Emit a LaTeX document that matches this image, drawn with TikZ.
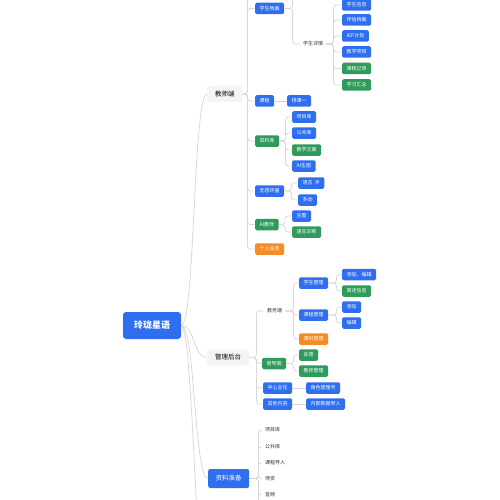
\documentclass[tikz,border=0pt]{standalone}
\usepackage{xcolor}
\usepackage{fontspec}
\setmainfont{Noto Sans CJK SC}
\usepackage{tikz}
\usetikzlibrary{positioning}

\definecolor{mmblue}{HTML}{2F6FEF}
\definecolor{mmgreen}{HTML}{2E9A5C}
\definecolor{mmorange}{HTML}{F68A25}
\definecolor{mmgray}{HTML}{F4F4F4}
\definecolor{mmline}{HTML}{D8D8D8}
\definecolor{mmtext}{HTML}{333333}

\begin{document}
\begin{tikzpicture}[
    x=1pt, y=-1pt,
    bluebox/.style = {rectangle, rounded corners=1.5pt, fill=mmblue, text=white, font=\fontsize{5}{6}\selectfont, minimum height=11.5pt, inner xsep=4.5pt, inner ysep=0pt, anchor=west},
    greenbox/.style = {bluebox, fill=mmgreen},
    orangebox/.style = {bluebox, fill=mmorange},
    plainnode/.style = {font=\fontsize{5}{6}\selectfont, text=mmtext, inner xsep=3pt, inner ysep=1pt, anchor=west},
    topicnode/.style = {rectangle, rounded corners=2pt, fill=mmgray, text=black, font=\fontsize{6.5}{8}\selectfont, minimum height=16pt, inner xsep=8pt, inner ysep=0pt, anchor=west},
    topicblue/.style = {topicnode, fill=mmblue, text=white, minimum height=19pt, inner xsep=7.5pt},
    rootnode/.style = {rectangle, rounded corners=3pt, fill=mmblue, text=white, font=\fontsize{9}{11}\selectfont\bfseries, minimum width=58pt, minimum height=27pt},
    link/.style = {draw=mmline, line width=0.8pt, rounded corners=3pt}
]
\useasboundingbox (0,0) rectangle (500,500);

\node [rootnode] (root) at (152,325.5) {玲珑星语};

% teacher side
\node [topicnode] (jsd) at (207,94) {教师端};
\node [bluebox] (xsda) at (255,8.5) {学生档案};
\node [plainnode] (xsxq) at (300,44) {学生详情};
\node [bluebox] (xsxx) at (342,5) {学生信息};
\node [bluebox] (pgda) at (342,20) {评估档案};
\node [bluebox] (iep) at (342,36) {IEP计划};
\node [bluebox] (jxxm) at (342,52) {教学项目};
\node [greenbox] (kcjl) at (342,68.5) {课程记录};
\node [greenbox] (xxhz) at (342,85) {学习汇总};

\node [bluebox] (kc) at (255,101) {课程};
\node [bluebox] (pk) at (287,101) {排课一};

\node [greenbox] (zlk) at (255,141) {资料库};
\node [bluebox] (xmk) at (292,117) {项目库};
\node [bluebox] (ggk) at (292,133) {公共库};
\node [greenbox] (jxwa) at (292,150) {教学文案};
\node [bluebox] (aist) at (292,166) {AI生图};

\node [bluebox] (wgpl) at (255,191) {无感评量};
\node [bluebox] (yy) at (298,183) {语言\ \ 步};
\node [bluebox] (dd) at (298,200) {多动};

\node [greenbox] (aijs) at (255,224.5) {AI教师};
\node [bluebox] (st) at (292,216) {生图};
\node [greenbox] (yyxl) at (292,232) {语言训练};

\node [orangebox] (grxx) at (255,249) {个人信息};

% admin side
\node [topicnode] (glht) at (207,357.5) {管理后台};
\node [plainnode] (jwd) at (264,311) {教务端};
\node [bluebox] (xsgl) at (299,283) {学生管理};
\node [bluebox] (tjbj) at (342,274.5) {添加、编辑};
\node [greenbox] (jsxx) at (342,291) {简述信息};
\node [bluebox] (kcgl) at (299,315) {课程管理};
\node [bluebox] (tj) at (342,307) {添加};
\node [bluebox] (bj) at (342,323) {编辑};
\node [orangebox] (ksgl) at (299,339) {课时管理};

\node [greenbox] (ddd) at (262,363.5) {督导端};
\node [greenbox] (fk) at (299,355) {反馈};
\node [greenbox] (jsgl) at (299,371) {教师管理};

\node [bluebox] (zxzr) at (263,388) {中心主任};
\node [bluebox] (jsglh) at (306,388) {角色管理号};
\node [bluebox] (qtnr) at (263,404) {其他内容};
\node [bluebox] (nbsj) at (306,404) {内部数据导入};

% material side
\node [topicblue] (zlzb) at (208,478.5) {资料准备};
\node [plainnode] (zxmk) at (262,430) {项目库};
\node [plainnode] (zggk) at (262,447) {公共库};
\node [plainnode] (kcdr) at (262,463) {课程导入};
\node [plainnode] (sz) at (262,478.5) {师资};
\node [plainnode] (yp) at (262,495) {音频};

% off-page ends
\coordinate (jsdtop) at (255,-30);
\coordinate (xsdatop) at (300,-30);
\coordinate (zlzbend) at (262,530);
\coordinate (rootend) at (207,620);

% root curves
\draw[link] (root.east) .. controls +(14,0) and +(-14,0) .. (jsd.west);
\draw[link] (root.east) .. controls +(14,0) and +(-14,0) .. (glht.west);
\draw[link] (root.east) .. controls +(14,0) and +(-14,0) .. (zlzb.west);
\draw[link] (root.east) .. controls +(12,0) and +(-10,0) .. (rootend);

% teacher links
\draw[link] (jsd.east) -- ++(4.5,0) |- (jsdtop);
\draw[link] (jsd.east) -- ++(4.5,0) |- (xsda.west);
\draw[link] (jsd.east) -- ++(4.5,0) |- (kc.west);
\draw[link] (jsd.east) -- ++(4.5,0) |- (zlk.west);
\draw[link] (jsd.east) -- ++(4.5,0) |- (wgpl.west);
\draw[link] (jsd.east) -- ++(4.5,0) |- (aijs.west);
\draw[link] (jsd.east) -- ++(4.5,0) |- (grxx.west);

\draw[link] (xsda.east) -- ++(8,0) |- (xsdatop);
\draw[link] (xsda.east) -- ++(8,0) |- (xsxq.west);

\draw[link] (xsxq.east) -- ++(7,0) |- (xsxx.west);
\draw[link] (xsxq.east) -- ++(7,0) |- (pgda.west);
\draw[link] (xsxq.east) -- ++(7,0) |- (iep.west);
\draw[link] (xsxq.east) -- ++(7,0) |- (jxxm.west);
\draw[link] (xsxq.east) -- ++(7,0) |- (kcjl.west);
\draw[link] (xsxq.east) -- ++(7,0) |- (xxhz.west);

\draw[link] (kc.east) -- (pk.west);

\draw[link] (zlk.east) -- ++(6,0) |- (xmk.west);
\draw[link] (zlk.east) -- ++(6,0) |- (ggk.west);
\draw[link] (zlk.east) -- ++(6,0) |- (jxwa.west);
\draw[link] (zlk.east) -- ++(6,0) |- (aist.west);

\draw[link] (wgpl.east) -- ++(7,0) |- (yy.west);
\draw[link] (wgpl.east) -- ++(7,0) |- (dd.west);

\draw[link] (aijs.east) -- ++(6,0) |- (st.west);
\draw[link] (aijs.east) -- ++(6,0) |- (yyxl.west);

% admin links
\draw[link] (glht.east) -- ++(7,0) |- (jwd.west);
\draw[link] (glht.east) -- ++(7,0) |- (ddd.west);
\draw[link] (glht.east) -- ++(7,0) |- (zxzr.west);
\draw[link] (glht.east) -- ++(7,0) |- (qtnr.west);

\draw[link] (jwd.east) -- ++(8,0) |- (xsgl.west);
\draw[link] (jwd.east) -- ++(8,0) |- (kcgl.west);
\draw[link] (jwd.east) -- ++(8,0) |- (ksgl.west);

\draw[link] (xsgl.east) -- ++(8,0) |- (tjbj.west);
\draw[link] (xsgl.east) -- ++(8,0) |- (jsxx.west);
\draw[link] (kcgl.east) -- ++(8,0) |- (tj.west);
\draw[link] (kcgl.east) -- ++(8,0) |- (bj.west);

\draw[link] (ddd.east) -- ++(7,0) |- (fk.west);
\draw[link] (ddd.east) -- ++(7,0) |- (jsgl.west);

\draw[link] (zxzr.east) -- (jsglh.west);
\draw[link] (qtnr.east) -- (nbsj.west);

% material links
\draw[link] (zlzb.east) -- ++(9,0) |- (zxmk.west);
\draw[link] (zlzb.east) -- ++(9,0) |- (zggk.west);
\draw[link] (zlzb.east) -- ++(9,0) |- (kcdr.west);
\draw[link] (zlzb.east) -- ++(9,0) |- (sz.west);
\draw[link] (zlzb.east) -- ++(9,0) |- (yp.west);
\draw[link] (zlzb.east) -- ++(9,0) |- (zlzbend);

\end{tikzpicture}
\end{document}
